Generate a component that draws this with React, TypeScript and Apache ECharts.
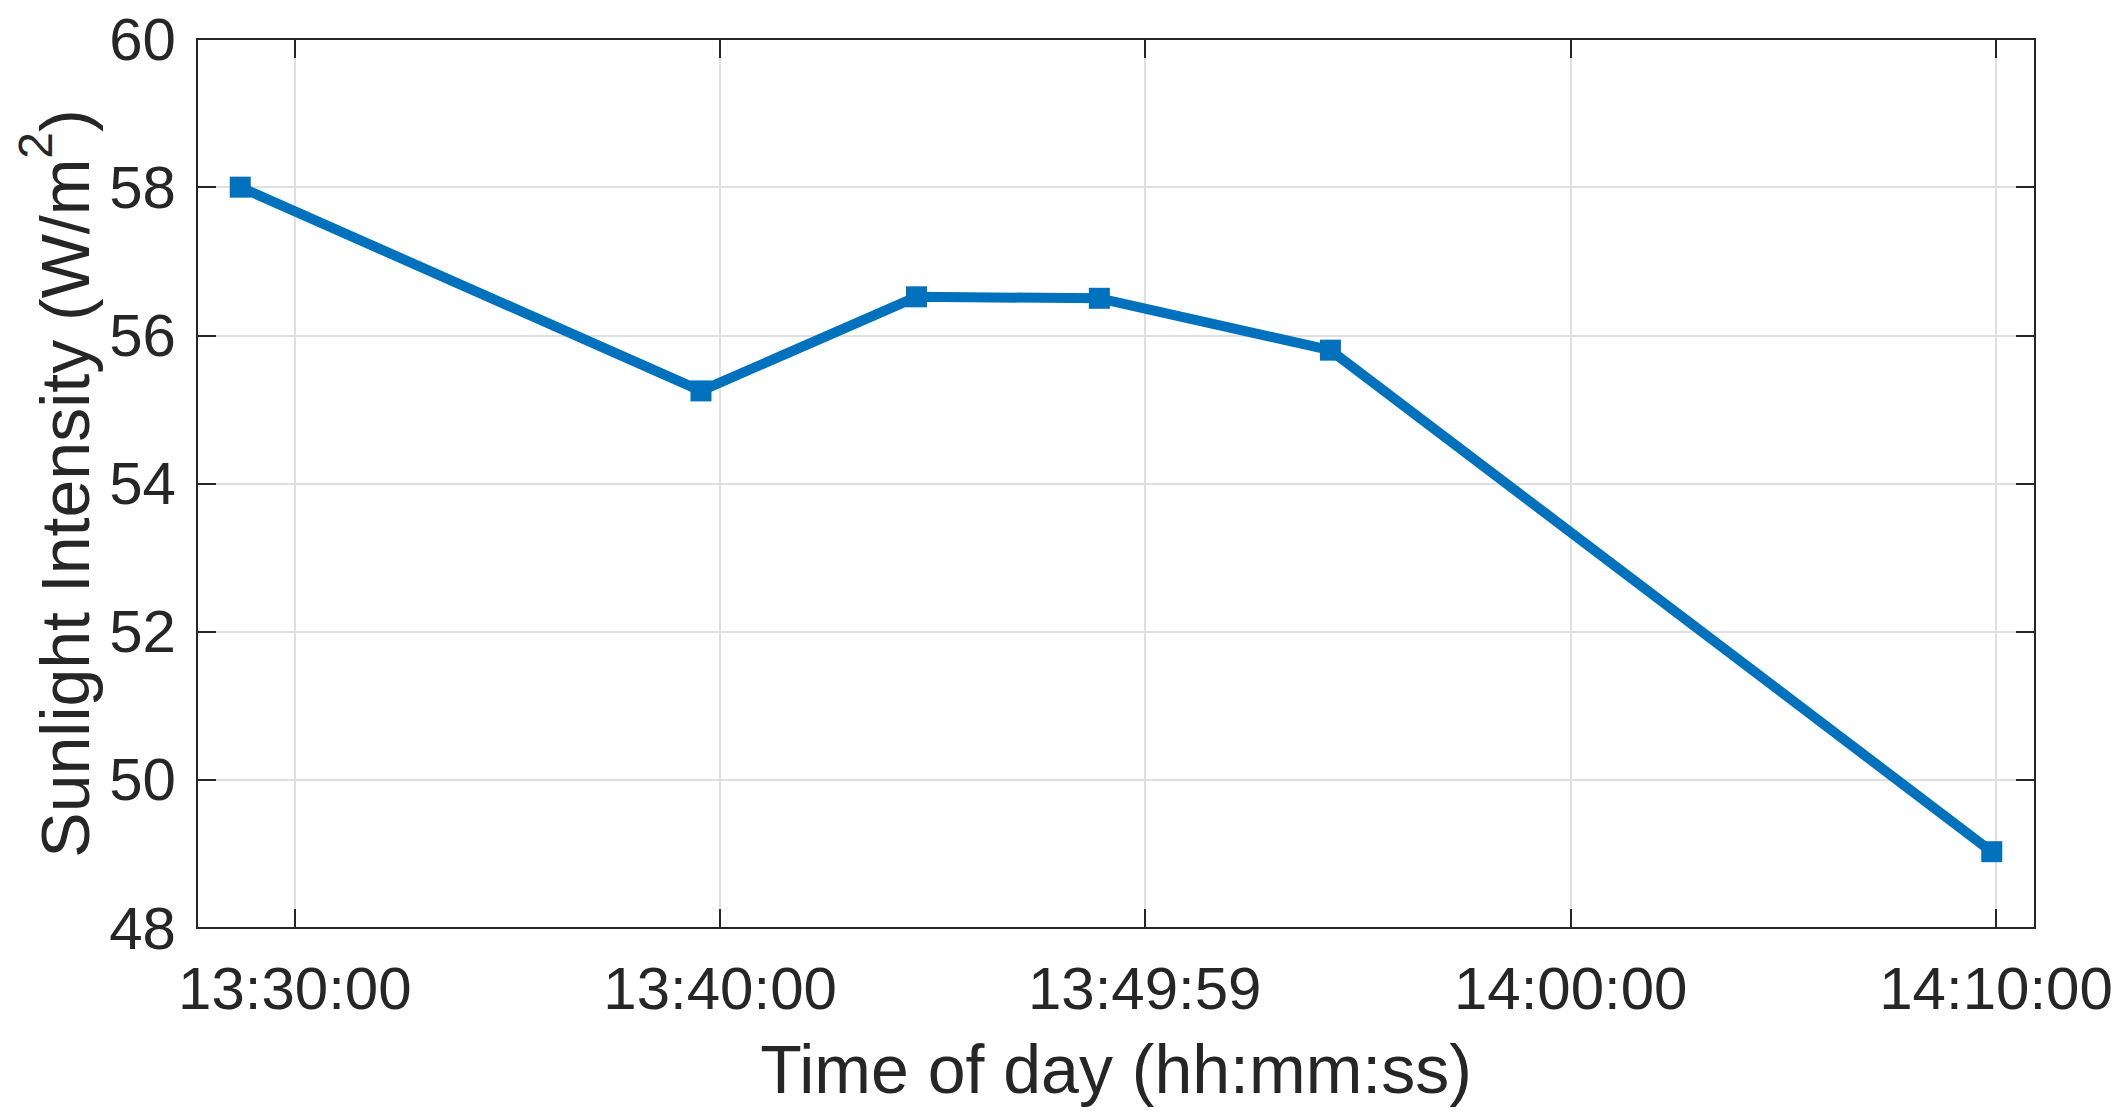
import React, { useEffect, useRef } from "react";
import * as echarts from "echarts";

const times = ["13:28:43", "13:39:33", "13:44:37", "13:48:55", "13:54:21", "14:09:54"];
const intensity = [58.0, 55.25, 56.52, 56.5, 55.8, 49.03];
const xTickLabels = ["13:30:00", "13:40:00", "13:49:59", "14:00:00", "14:10:00"];
const xRange = ["13:27:42", "14:10:55"];
const yTickValues = [48, 50, 52, 54, 56, 58, 60];

const toSec = (s: string) => {
  const [h, m, ss] = s.split(":").map(Number);
  return h * 3600 + m * 60 + ss;
};
const pad = (n: number) => String(n).padStart(2, "0");
const fromSec = (v: number) => {
  const r = Math.round(v);
  return `${pad(Math.floor(r / 3600))}:${pad(Math.floor((r % 3600) / 60))}:${pad(r % 60)}`;
};

const FONT = "Liberation Sans, Arial, Helvetica, sans-serif";
const TXT = "#262626";
const LINE = "#0072BD";

export default function App() {
  const ref = useRef<HTMLDivElement>(null);
  useEffect(() => {
    if (!ref.current) return;
    const chart = echarts.init(ref.current, null, { renderer: "svg" });
    const xTicks = xTickLabels.map(toSec);
    const xMin = toSec(xRange[0]);
    const xMax = toSec(xRange[1]);
    const yMin = yTickValues[0];
    const yMax = yTickValues[yTickValues.length - 1];
    const axisLine = { show: true, onZero: false, lineStyle: { color: TXT, width: 2 } };
    const tick = { show: true, inside: true, length: 19, lineStyle: { color: TXT, width: 2 } };
    chart.setOption({
      animation: false,
      backgroundColor: "#ffffff",
      grid: { left: 197, right: 93, top: 39, bottom: 192, containLabel: false, outerBoundsMode: "none" },
      xAxis: [
        {
          type: "value",
          min: xMin,
          max: xMax,
          axisLine,
          axisTick: { ...tick, customValues: xTicks },
          axisLabel: {
            customValues: xTicks,
            formatter: (v: number) => fromSec(v),
            fontSize: 60,
            fontFamily: FONT,
            color: TXT,
            margin: 30,
          },
          splitLine: { show: true, lineStyle: { color: "#dfdfdf", width: 2 } },
          name: "Time of day (hh:mm:ss)",
          nameLocation: "middle",
          nameGap: 107,
          nameMoveOverlap: false,
          nameTextStyle: { fontSize: 68, fontFamily: FONT, color: TXT },
        },
        {
          type: "value",
          position: "top",
          min: xMin,
          max: xMax,
          axisLine,
          axisTick: { ...tick, customValues: xTicks },
          axisLabel: { show: false, customValues: xTicks },
          splitLine: { show: false },
        },
      ],
      yAxis: [
        {
          type: "value",
          min: yMin,
          max: yMax,
          interval: 2,
          axisLine,
          axisTick: tick,
          axisLabel: { fontSize: 60, fontFamily: FONT, color: TXT, margin: 21 },
          splitLine: { show: true, lineStyle: { color: "#dfdfdf", width: 2 } },
          name: "{a|Sunlight Intensity (W/m}{s|2}{a|)}",
          nameLocation: "middle",
          nameGap: 78,
          nameMoveOverlap: false,
          nameTextStyle: {
            rich: {
              a: { fontSize: 68, fontFamily: FONT, color: TXT, lineHeight: 108 },
              s: { fontSize: 48, fontFamily: FONT, color: TXT, lineHeight: 48, verticalAlign: "top" },
            },
          },
        },
        {
          type: "value",
          position: "right",
          min: yMin,
          max: yMax,
          interval: 2,
          axisLine,
          axisTick: tick,
          axisLabel: { show: false },
          splitLine: { show: false },
        },
      ],
      series: [
        {
          type: "line",
          data: times.map((t, i) => [toSec(t), intensity[i]]),
          symbol: "rect",
          symbolSize: 21,
          lineStyle: { color: LINE, width: 10 },
          itemStyle: { color: LINE },
          z: 5,
        },
      ],
    });
    return () => chart.dispose();
  }, []);
  return (
    <div
      ref={ref}
      style={{ position: "fixed", left: 0, top: 0, width: 2128, height: 1120, background: "#fff" }}
    />
  );
}
